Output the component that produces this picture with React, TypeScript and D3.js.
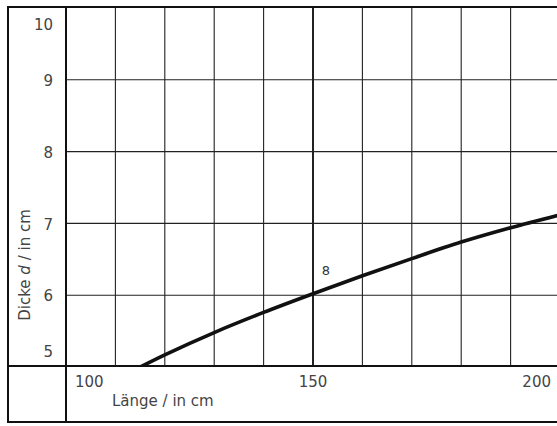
import React from 'react';
import * as d3 from 'd3';

// Länge (cm) -> Dicke d (cm), curve "8"
const laenge = [113, 120, 130, 140, 150, 160, 170, 180, 190, 200];
const dicke = [4.93, 5.17, 5.48, 5.76, 6.02, 6.27, 6.51, 6.74, 6.94, 7.12];

const xGrid = [110, 120, 130, 140, 150, 160, 170, 180, 190];
const yGrid = [6, 7, 8, 9];
const xTicks = [100, 150, 200];
const yTicks = [5, 6, 7, 8, 9, 10];

const W = 557;
const H = 426;
const font = '"DejaVu Sans", sans-serif';

export default function App() {
    const x = d3.scaleLinear().domain([100, 200]).range([66, 560]);
    const y = d3.scaleLinear().domain([5, 10]).range([367, 8]);

    const pts = laenge.map((l, i) => [l, dicke[i]] as [number, number]);
    const line = d3.line<[number, number]>()
        .x((d) => x(d[0]))
        .y((d) => y(d[1]))
        .curve(d3.curveCatmullRom);

    // labels at the ends are pushed inside the frame
    const xLabel = (v: number) => {
        if (v === 100) return { xx: x(v) + 9, anchor: 'start' };
        if (v === 200) return { xx: 551, anchor: 'end' };
        return { xx: x(v), anchor: 'middle' };
    };
    const yLabel = (v: number) => {
        if (v === 10) return y(v) + 17;
        if (v === 5) return y(5) - 15;
        return y(v) + 1;
    };

    return (
        <svg width={W} height={H} style={{ position: 'absolute', left: 0, top: 0, background: '#fff' }}>
            <defs>
                <clipPath id="plot">
                    <rect x={66} y={8} width={W} height={359} />
                </clipPath>
            </defs>

            {xGrid.map((v) => (
                <line key={'gx' + v} x1={x(v)} x2={x(v)} y1={7} y2={366}
                    stroke="#222" strokeWidth={v === 150 ? 2 : 1.1} />
            ))}
            {yGrid.map((v) => (
                <line key={'gy' + v} x1={66} x2={W} y1={y(v)} y2={y(v)} stroke="#222" strokeWidth={1.1} />
            ))}

            {/* frame */}
            <line x1={8} x2={W} y1={7} y2={7} stroke="#111" strokeWidth={2} />
            <line x1={8} x2={W} y1={366} y2={366} stroke="#111" strokeWidth={2} />
            <line x1={8} x2={W} y1={422} y2={422} stroke="#111" strokeWidth={2} />
            <line x1={8} x2={8} y1={6} y2={423} stroke="#111" strokeWidth={2} />
            <line x1={66} x2={66} y1={6} y2={423} stroke="#111" strokeWidth={2} />

            <path d={line(pts) || ''} fill="none" stroke="#111" strokeWidth={3.6} clipPath="url(#plot)" />
            <text x={326} y={275} fontFamily={font} fontSize={13} fill="#333" textAnchor="middle">8</text>

            {yTicks.map((v) => (
                <text key={'ty' + v} x={53} y={yLabel(v)} dy="0.35em" textAnchor="end"
                    fontFamily={font} fontSize={15} fill="#444">{v}</text>
            ))}
            {xTicks.map((v) => {
                const l = xLabel(v);
                return (
                    <text key={'tx' + v} x={l.xx} y={387} textAnchor={l.anchor}
                        fontFamily={font} fontSize={15} fill="#444">{v}</text>
                );
            })}

            <text x={112} y={406} fontFamily={font} fontSize={15} fill="#444">Länge / in cm</text>
            <text transform="translate(30,265) rotate(-90)" textAnchor="middle"
                fontFamily={font} fontSize={15} fill="#444">
                Dicke <tspan fontStyle="italic">d</tspan> / in cm
            </text>
        </svg>
    );
}
